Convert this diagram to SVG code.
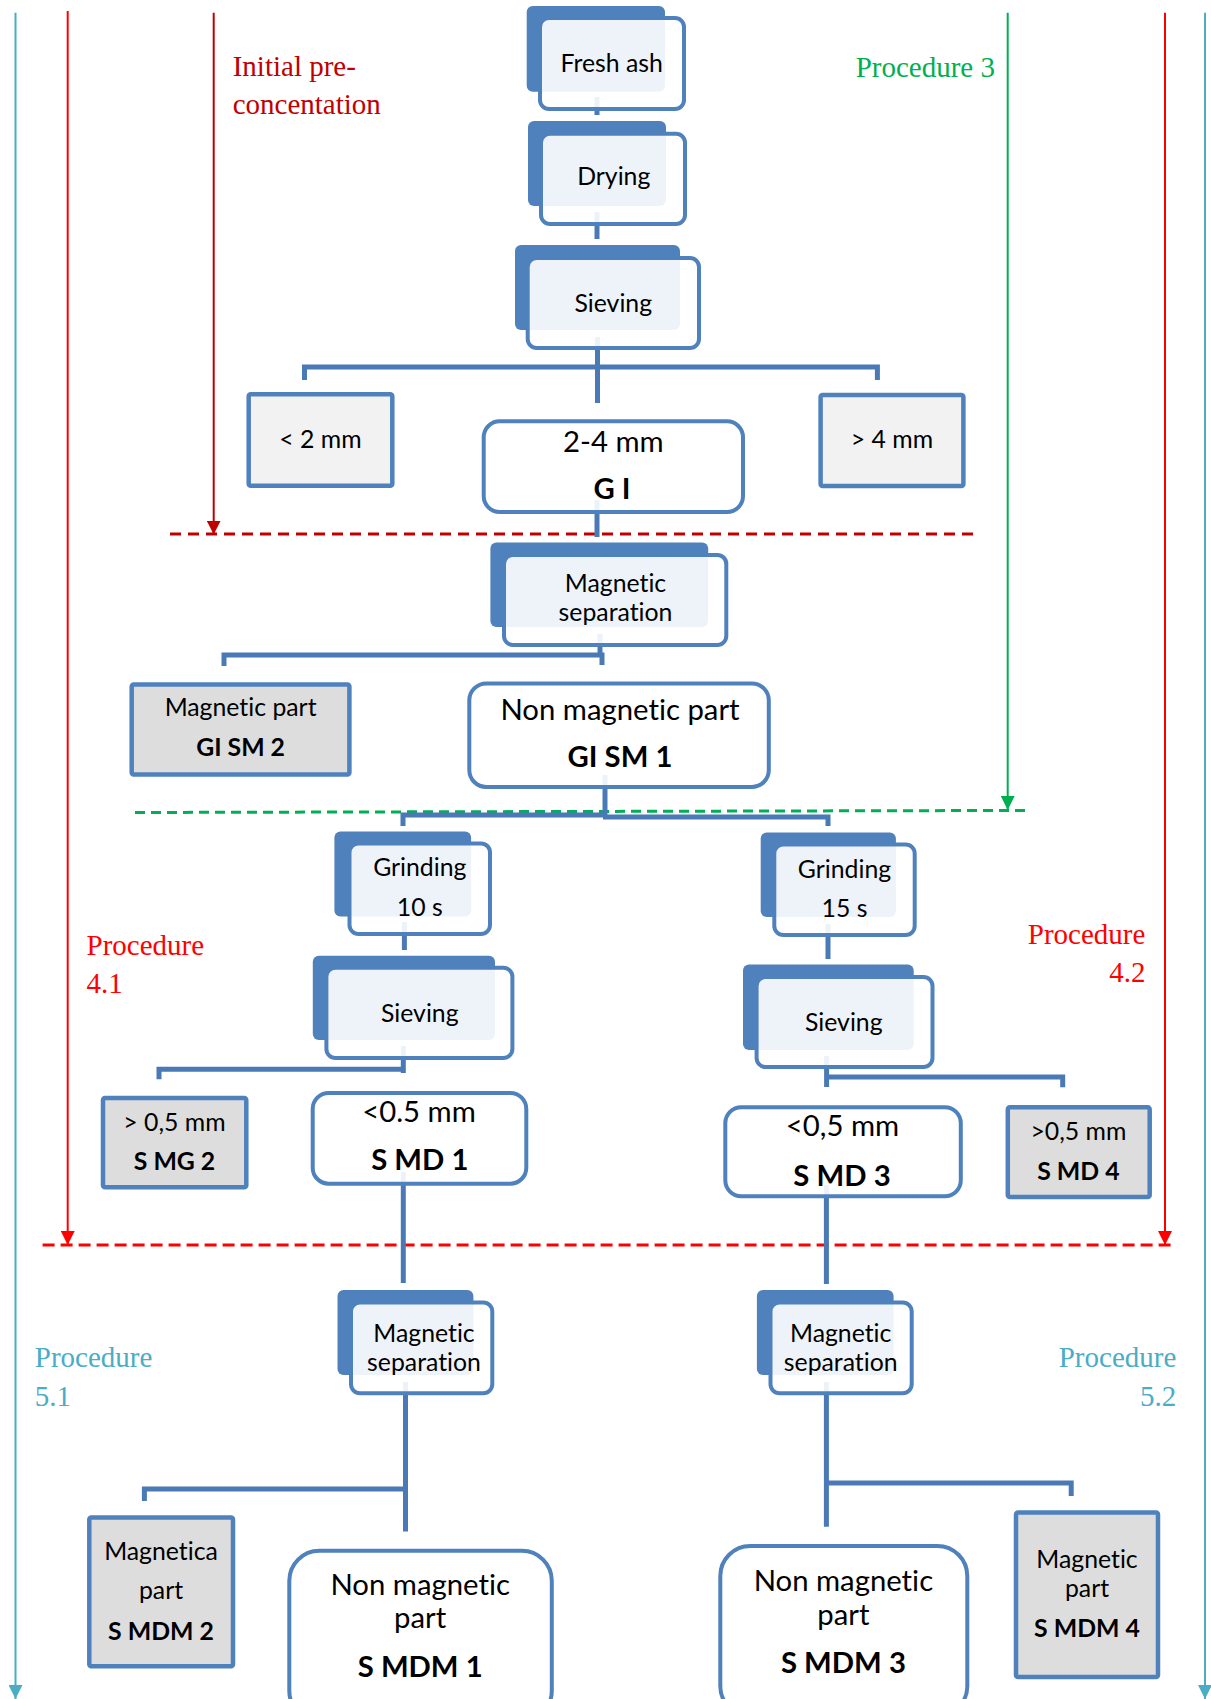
<svg xmlns="http://www.w3.org/2000/svg" width="1211" height="1699" viewBox="0 0 1211 1699">
<style>
.bk{fill:#4F81BD}
.fr{fill:#FFFFFF;fill-opacity:0.9;stroke:#4F81BD;stroke-width:4}
.res{fill:#FFFFFF;fill-opacity:0.9;stroke:#4F81BD;stroke-width:4}
.lt{fill:#F2F2F2;stroke:#4F81BD;stroke-width:4.5}
.gy{fill:#DDDDDD;stroke:#4F81BD;stroke-width:4.5}
.c{fill:none;stroke:#4A7AB5;stroke-width:5}
.t,.tl{font-family:Lato,"Open Sans",sans-serif;fill:#000;text-anchor:middle;font-variant-ligatures:none;font-feature-settings:"liga" 0,"clig" 0}
.t{font-size:24.8px}
.tl{font-size:29.3px}
.b{font-weight:700}
.p{font-family:"Liberation Serif","Times New Roman",serif;font-size:29px}
.v{fill:none;stroke-width:2}
.d{fill:none;stroke-width:3}
</style>
<defs>
<marker id="a-cy" viewBox="0 0 14 14" refX="14" refY="7" markerWidth="14" markerHeight="14" markerUnits="userSpaceOnUse" orient="auto"><path d="M0,0 L14,7 L0,14 z" fill="#4BACC6"/></marker>
<marker id="a-rd" viewBox="0 0 14 14" refX="14" refY="7" markerWidth="14" markerHeight="14" markerUnits="userSpaceOnUse" orient="auto"><path d="M0,0 L14,7 L0,14 z" fill="#FF0000"/></marker>
<marker id="a-dr" viewBox="0 0 14 14" refX="14" refY="7" markerWidth="14" markerHeight="14" markerUnits="userSpaceOnUse" orient="auto"><path d="M0,0 L14,7 L0,14 z" fill="#C00000"/></marker>
<marker id="a-gr" viewBox="0 0 14 14" refX="14" refY="7" markerWidth="14" markerHeight="14" markerUnits="userSpaceOnUse" orient="auto"><path d="M0,0 L14,7 L0,14 z" fill="#00B050"/></marker>
</defs>
<rect width="1211" height="1699" fill="#FFFFFF"/>

<g id="annotations">
<line class="v" x1="15.5" y1="12.7" x2="15.5" y2="1699" stroke="#4BACC6" marker-end="url(#a-cy)"/>
<line class="v" x1="1205" y1="12.7" x2="1205" y2="1699" stroke="#4BACC6" marker-end="url(#a-cy)"/>
<line class="v" x1="67.7" y1="11" x2="67.7" y2="1245" stroke="#FF0000" marker-end="url(#a-rd)"/>
<line class="v" x1="1165" y1="12.7" x2="1165" y2="1245" stroke="#FF0000" marker-end="url(#a-rd)"/>
<line class="v" x1="213.7" y1="12.7" x2="213.7" y2="534.6" stroke="#C00000" marker-end="url(#a-dr)"/>
<line class="v" x1="1007.7" y1="12.7" x2="1007.7" y2="810" stroke="#00B050" marker-end="url(#a-gr)"/>
<line class="d" x1="170" y1="534" x2="975" y2="534" stroke="#C00000" stroke-dasharray="11 7"/>
<line class="d" x1="135" y1="812.5" x2="1031" y2="810.4" stroke="#00B050" stroke-dasharray="10 6"/>
<line class="d" x1="42.6" y1="1245" x2="1176" y2="1245" stroke="#FF0000" stroke-dasharray="12 6"/>
<text class="p" x="232.7" y="76" fill="#C00000">Initial pre-</text>
<text class="p" x="232.7" y="114.3" fill="#C00000">concentation</text>
<text class="p" x="995" y="77.3" fill="#00B050" text-anchor="end">Procedure 3</text>
<text class="p" x="86.5" y="955" fill="#FF0000">Procedure</text>
<text class="p" x="86.5" y="993" fill="#FF0000">4.1</text>
<text class="p" x="1145.4" y="944.3" fill="#FF0000" text-anchor="end">Procedure</text>
<text class="p" x="1145.4" y="981.8" fill="#FF0000" text-anchor="end">4.2</text>
<text class="p" x="34.8" y="1367.4" fill="#4BACC6">Procedure</text>
<text class="p" x="34.8" y="1405.6" fill="#4BACC6">5.1</text>
<text class="p" x="1176.3" y="1367.4" fill="#4BACC6" text-anchor="end">Procedure</text>
<text class="p" x="1176.3" y="1405.6" fill="#4BACC6" text-anchor="end">5.2</text>
</g>

<g id="connectors">
<path class="c" d="M597,97 V115"/>
<path class="c" d="M597,212 V239"/>
<path class="c" d="M597.5,337 V403"/>
<path class="c" d="M304.5,380 V367 H877.4 V380"/>
<path class="c" d="M597,500 V537"/>
<path class="c" d="M600,634 V655"/>
<path class="c" d="M224,666 V655 H602 V665"/>
<path class="c" d="M605,775 V815"/>
<path class="c" d="M403,826 V815 H605"/>
<path class="c" d="M603,817 H828 V826"/>
<path class="c" d="M404.4,922 V950"/>
<path class="c" d="M828,924 V959"/>
<path class="c" d="M403.3,1046 V1073"/>
<path class="c" d="M159,1079.3 V1069.3 H405"/>
<path class="c" d="M826.6,1056 V1087"/>
<path class="c" d="M826.6,1077 H1062.7 V1087.3"/>
<path class="c" d="M403.3,1172 V1283"/>
<path class="c" d="M826.4,1185 V1284"/>
<path class="c" d="M405.5,1382 V1531.6"/>
<path class="c" d="M144.4,1501 V1489 H405.5"/>
<path class="c" d="M826.4,1382 V1526.7"/>
<path class="c" d="M826.4,1483 H1071.2 V1496"/>
</g>

<g id="fresh-ash">
<rect class="bk" x="526.7" y="6" width="138.3" height="85.7" rx="6"/>
<rect class="fr" x="540" y="18" width="144" height="91" rx="9"/>
<text class="t" x="611.7" y="71.7">Fresh ash</text>
</g>
<g id="drying">
<rect class="bk" x="528" y="121" width="138" height="85" rx="6"/>
<rect class="fr" x="541" y="133.7" width="144" height="90.3" rx="9"/>
<text class="t" x="613.8" y="185">Drying</text>
</g>
<g id="sieving-1">
<rect class="bk" x="515" y="245" width="165" height="85" rx="6"/>
<rect class="fr" x="527.7" y="258" width="171.3" height="90" rx="9"/>
<text class="t" x="613.3" y="311.7">Sieving</text>
</g>
<g id="lt2mm">
<rect class="lt" x="248.7" y="394.3" width="143.6" height="91.4" rx="2"/>
<text class="t" x="320.5" y="448.3">&lt; 2 mm</text>
</g>
<g id="gt4mm">
<rect class="lt" x="820.6" y="394.9" width="142.8" height="91" rx="2"/>
<text class="t" x="892" y="448.3">&gt; 4 mm</text>
</g>
<g id="gi">
<rect class="res" x="483.7" y="421.3" width="259.3" height="90.7" rx="16"/>
<text class="tl" x="613.3" y="451.7">2-4 mm</text>
<text class="tl b" x="612" y="499.3">G I</text>
</g>
<g id="magsep-1">
<rect class="bk" x="490.4" y="542.5" width="217.8" height="84.5" rx="6"/>
<rect class="fr" x="504" y="554.9" width="222.3" height="90.1" rx="9"/>
<text class="t" x="615.5" y="592">Magnetic</text>
<text class="t" x="615.5" y="621">separation</text>
</g>
<g id="gism2">
<rect class="gy" x="131.7" y="684.5" width="217.7" height="89.9" rx="2"/>
<text class="t" x="240.6" y="716.4">Magnetic part</text>
<text class="t b" x="240.6" y="756.4">GI SM 2</text>
</g>
<g id="gism1">
<rect class="res" x="469.3" y="683.4" width="299.5" height="103.6" rx="17"/>
<text class="tl" x="620" y="720">Non magnetic part</text>
<text class="tl b" x="620" y="767">GI SM 1</text>
</g>
<g id="grinding-10">
<rect class="bk" x="334.4" y="831.4" width="136.7" height="85" rx="6"/>
<rect class="fr" x="349.5" y="843.4" width="140.5" height="90.6" rx="9"/>
<text class="t" x="419.8" y="876.4">Grinding</text>
<text class="t" x="419.8" y="915.7">10 s</text>
</g>
<g id="grinding-15">
<rect class="bk" x="760.7" y="832.5" width="135.2" height="84.5" rx="6"/>
<rect class="fr" x="774.3" y="844.5" width="140.4" height="90.5" rx="9"/>
<text class="t" x="844.5" y="877.5">Grinding</text>
<text class="t" x="844.5" y="916.7">15 s</text>
</g>
<g id="sieving-2">
<rect class="bk" x="312.8" y="955.7" width="182.2" height="84.3" rx="6"/>
<rect class="fr" x="326.4" y="967.7" width="186" height="90.3" rx="9"/>
<text class="t" x="419.8" y="1021.8">Sieving</text>
</g>
<g id="sieving-3">
<rect class="bk" x="743" y="964.6" width="170.7" height="85.4" rx="6"/>
<rect class="fr" x="756.6" y="977" width="175.9" height="90" rx="9"/>
<text class="t" x="843.8" y="1030.7">Sieving</text>
</g>
<g id="smg2">
<rect class="gy" x="103" y="1098" width="143.3" height="89.3" rx="2"/>
<text class="t" x="174.5" y="1131">&gt; 0,5 mm</text>
<text class="t b" x="174.5" y="1170">S MG 2</text>
</g>
<g id="smd1">
<rect class="res" x="312.7" y="1093" width="213.6" height="90.7" rx="16"/>
<text class="tl" x="419" y="1122.3">&lt;0.5 mm</text>
<text class="tl b" x="419.8" y="1170">S MD 1</text>
</g>
<g id="smd3">
<rect class="res" x="725.3" y="1107.2" width="235.5" height="89.1" rx="16"/>
<text class="tl" x="842.5" y="1136.4">&lt;0,5 mm</text>
<text class="tl b" x="842" y="1185.5">S MD 3</text>
</g>
<g id="smd4">
<rect class="gy" x="1007.8" y="1107.2" width="141.9" height="89.8" rx="2"/>
<text class="t" x="1078.4" y="1139.7">&gt;0,5 mm</text>
<text class="t b" x="1078.4" y="1179.7">S MD 4</text>
</g>
<g id="magsep-2">
<rect class="bk" x="337.5" y="1290" width="135.9" height="85" rx="6"/>
<rect class="fr" x="351" y="1302.5" width="141.3" height="90.8" rx="9"/>
<text class="t" x="424" y="1341.8">Magnetic</text>
<text class="t" x="424" y="1370.5">separation</text>
</g>
<g id="magsep-3">
<rect class="bk" x="756.9" y="1290" width="136.7" height="85" rx="6"/>
<rect class="fr" x="770.5" y="1302.5" width="141.2" height="90.8" rx="9"/>
<text class="t" x="840.7" y="1341.8">Magnetic</text>
<text class="t" x="840.7" y="1370.5">separation</text>
</g>
<g id="smdm2">
<rect class="gy" x="89.3" y="1517.6" width="143.7" height="148.7" rx="2"/>
<text class="t" x="161" y="1560.3">Magnetica</text>
<text class="t" x="161" y="1599">part</text>
<text class="t b" x="161" y="1640">S MDM 2</text>
</g>
<g id="smdm1">
<rect class="res" x="289.3" y="1550.8" width="262.5" height="170" rx="30"/>
<text class="tl" x="420.2" y="1594.7">Non magnetic</text>
<text class="tl" x="420.2" y="1628">part</text>
<text class="tl b" x="420.2" y="1676.8">S MDM 1</text>
</g>
<g id="smdm3">
<rect class="res" x="720.3" y="1546" width="247" height="170" rx="30"/>
<text class="tl" x="843.4" y="1590.9">Non magnetic</text>
<text class="tl" x="843.4" y="1625">part</text>
<text class="tl b" x="843.4" y="1673">S MDM 3</text>
</g>
<g id="smdm4">
<rect class="gy" x="1016" y="1512.6" width="142" height="164.4" rx="2"/>
<text class="t" x="1087" y="1568">Magnetic</text>
<text class="t" x="1087" y="1597">part</text>
<text class="t b" x="1087" y="1637">S MDM 4</text>
</g>
</svg>
